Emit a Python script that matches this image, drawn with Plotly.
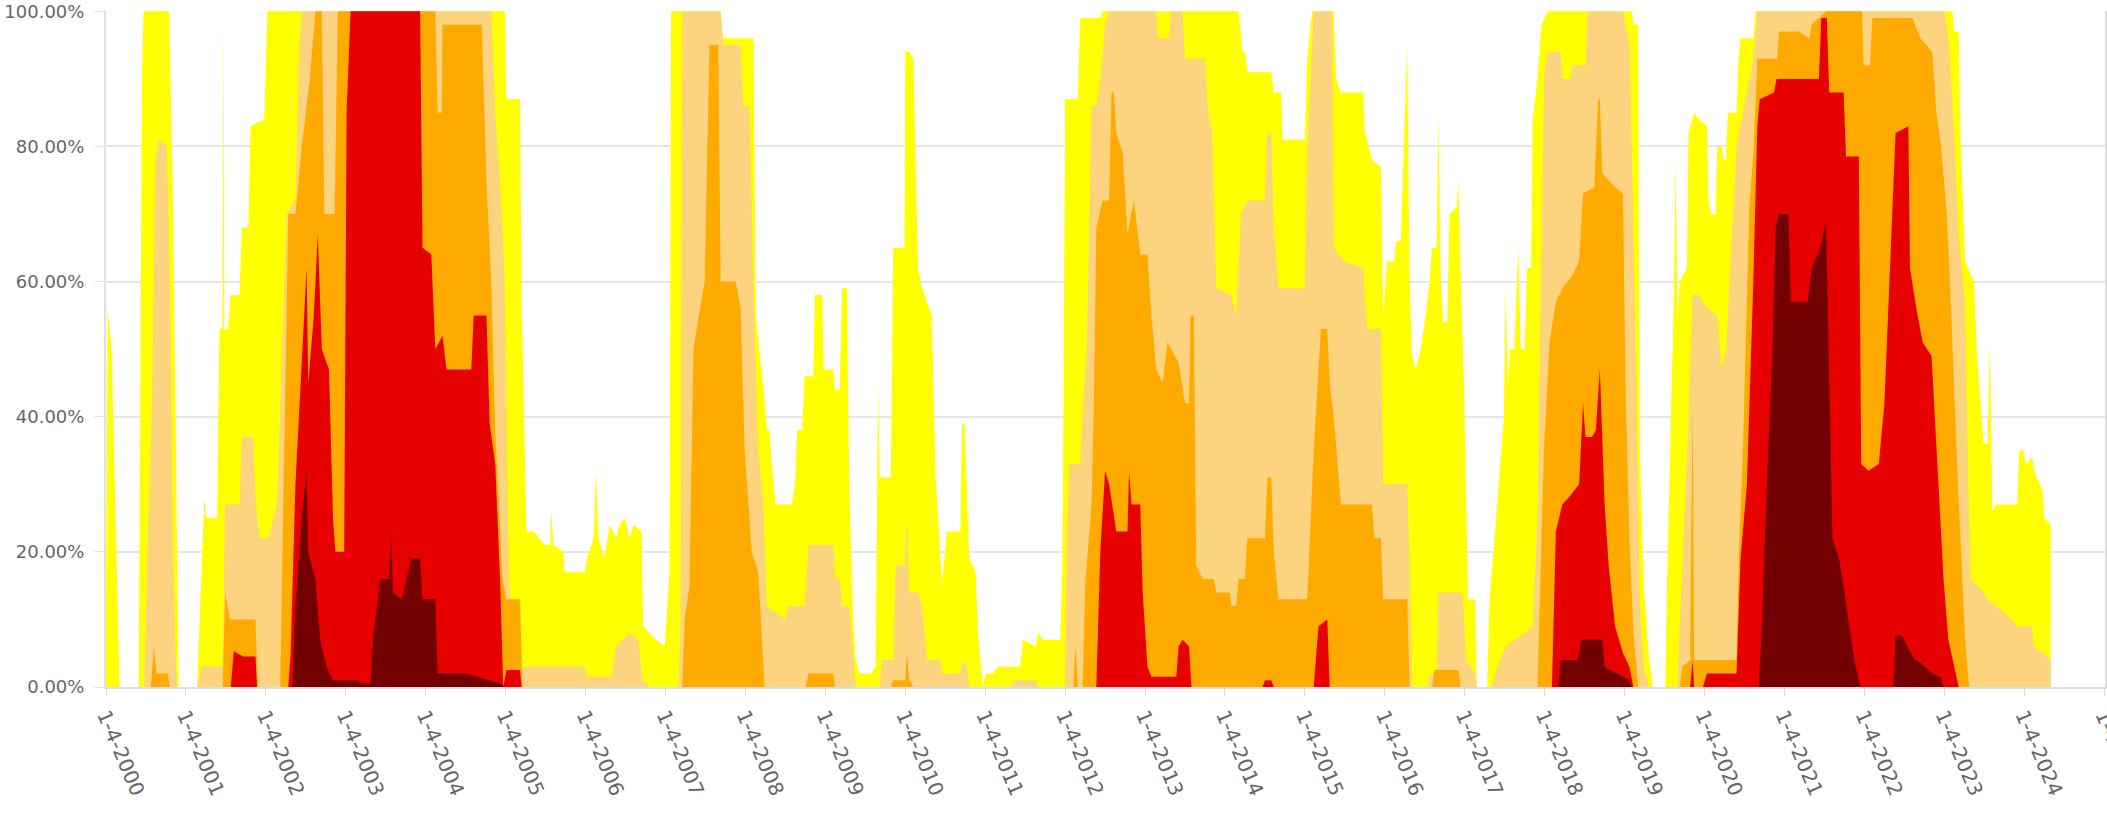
import plotly.graph_objects as go

# ---- data (time in decimal years, value in % area) ----
d0_t = [2000.00,2000.02,2000.07,2000.12,2000.17,2000.41,2000.45,2000.47,2000.79,2000.84,2000.89,2000.91,
        2001.14,2001.20,2001.23,2001.25,2001.39,2001.42,2001.46,2001.47,2001.48,2001.53,2001.56,2001.67,2001.70,
        2001.78,2001.81,2001.98,2002.02,2004.99,2005.01,2005.18,2005.20,2005.26,2005.35,2005.49,2005.56,2005.57,
        2005.60,2005.72,2005.74,2005.99,2006.02,2006.10,2006.13,2006.16,2006.24,2006.30,2006.38,2006.43,2006.49,
        2006.55,2006.60,2006.70,2006.72,2006.80,2006.88,2006.99,2007.05,2007.07,2007.69,2007.72,2008.10,2008.13,
        2008.22,2008.27,2008.30,2008.33,2008.38,2008.58,2008.62,2008.65,2008.71,2008.74,2008.85,2008.87,2008.96,
        2008.98,2009.10,2009.12,2009.18,2009.21,2009.27,2009.30,2009.35,2009.38,2009.43,2009.57,2009.63,2009.66,
        2009.68,2009.82,2009.85,2009.99,2010.00,2010.05,2010.10,2010.16,2010.21,2010.33,2010.38,2010.46,2010.52,
        2010.69,2010.71,2010.74,2010.80,2010.88,2010.91,2010.97,2011.01,2011.10,2011.16,2011.44,2011.47,2011.63,
        2011.66,2011.72,2011.94,2011.97,2012.00,2012.16,2012.19,2012.44,2012.47,2014.17,2014.22,2014.25,2014.28,
        2014.58,2014.61,2014.70,2014.72,2015.00,2015.03,2015.09,2015.36,2015.39,2015.45,2015.73,2015.75,2015.84,
        2015.95,2015.98,2016.03,2016.12,2016.14,2016.20,2016.28,2016.31,2016.34,2016.39,2016.45,2016.51,2016.56,
        2016.59,2016.65,2016.67,2016.70,2016.73,2016.78,2016.81,2016.90,2016.92,2016.95,2016.99,2017.04,2017.13,
        2017.15,2017.28,2017.31,2017.36,2017.44,2017.49,2017.51,2017.54,2017.57,2017.62,2017.67,2017.70,2017.75,
        2017.78,2017.83,2017.85,2017.91,2017.96,2018.04,2019.09,2019.11,2019.17,2019.19,2019.24,2019.30,2019.35,
        2019.51,2019.53,2019.61,2019.64,2019.66,2019.69,2019.78,2019.80,2019.87,2019.93,2020.03,2020.05,2020.08,
        2020.14,2020.16,2020.21,2020.24,2020.27,2020.29,2020.40,2020.42,2020.45,2020.61,2020.64,2023.10,2023.12,
        2023.18,2023.20,2023.26,2023.37,2023.41,2023.49,2023.54,2023.57,2023.60,2023.65,2023.91,2023.94,2023.99,
        2024.02,2024.10,2024.12,2024.23,2024.25,2024.33]
d0_v = [10,56,50,25,0,0,90,100,100,70,15,0,
        0,20,28,25,25,53,53,100,53,53,58,58,68,
        68,83,84,100,100,87,87,57,23,23,21,21,26,
        21,20,17,17,19,22,32,22,19,24,22,24,25,
        22,24,23,9,8,7,6,17,100,100,96,96,55,
        45,38,38,33,27,27,30,38,38,46,46,58,58,
        47,47,44,44,59,59,29,9,4,2,2,3,45,
        31,31,65,65,94,94,93,62,59,55,31,15,23,
        23,39,39,19,17,8,0,2,2,3,3,7,6,
        8,7,7,20,87,87,99,99,100,100,94,94,91,
        91,88,88,81,81,93,100,100,90,88,88,82,78,
        77,55,63,63,66,66,95,60,49,47,50,55,60,
        65,65,85,60,54,54,70,71,75,60,45,13,13,
        0,0,13,20,32,40,59,45,50,50,65,50,50,
        62,62,84,90,98,100,100,98,98,35,15,5,0,
        0,15,55,78,54,60,62,82,85,84,83,72,70,
        70,80,80,78,78,85,85,92,96,96,100,100,97,
        97,82,63,60,49,36,36,51,26,27,27,35,35,
        33,34,32,29,25,24]

d1_t = [2000.48,2000.52,2000.58,2000.62,2000.66,2000.76,2000.80,2000.84,2000.87,2000.89,
        2001.14,2001.20,2001.46,2001.49,2001.67,2001.70,2001.84,2001.87,2001.92,2002.03,2002.14,2002.20,
        2002.26,2002.37,2002.42,2002.45,2004.82,2004.87,2004.93,2004.99,2005.04,2005.10,2005.18,2005.99,
        2006.02,2006.32,2006.38,2006.55,2006.66,2006.71,2006.80,2007.16,2007.19,2007.21,2007.69,2007.72,
        2007.94,2007.97,2008.05,2008.11,2008.16,2008.22,2008.27,2008.50,2008.54,2008.74,2008.79,2009.10,
        2009.12,2009.18,2009.21,2009.30,2009.35,2009.38,2009.68,2009.71,2009.85,2009.88,2009.99,2010.02,
        2010.05,2010.16,2010.21,2010.27,2010.44,2010.46,2010.69,2010.71,2010.77,2010.80,2011.33,2011.35,
        2011.63,2011.66,2012.00,2012.02,2012.05,2012.19,2012.22,2012.27,2012.33,2012.39,2012.44,2012.50,
        2012.55,2013.14,2013.16,2013.30,2013.33,2013.47,2013.50,2013.75,2013.78,2013.84,2013.89,2014.08,
        2014.14,2014.20,2014.28,2014.50,2014.53,2014.58,2014.61,2014.67,2015.00,2015.03,2015.11,2015.34,
        2015.36,2015.48,2015.73,2015.75,2015.78,2015.95,2015.98,2016.28,2016.31,2016.34,2016.54,2016.56,
        2016.65,2016.67,2016.97,2017.02,2017.13,2017.15,2017.33,2017.44,2017.51,2017.62,2017.75,2017.85,
        2017.91,2017.96,2017.99,2018.04,2018.20,2018.22,2018.33,2018.35,2018.51,2018.54,2018.98,2019.06,
        2019.14,2019.19,2019.24,2019.30,2019.66,2019.69,2019.72,2019.80,2019.85,2019.93,2020.03,2020.16,
        2020.21,2020.27,2020.32,2020.40,2020.48,2020.56,2020.61,2020.66,2023.00,2023.05,2023.10,2023.18,
        2023.26,2023.30,2023.33,2023.49,2023.54,2023.75,2023.91,2024.10,2024.12,2024.23,2024.33]
d1_v = [0,20,45,78,81,80,60,20,5,0,
        0,3,3,27,27,37,37,28,22,22,27,50,
        70,72,95,100,100,85,75,60,16,8,3,3,
        1.5,1.5,6,8,7,1,0,0,10,100,100,95,
        95,86,86,55,35,28,12,10,12,12,21,21,
        16,16,12,12,5,0,0,4,4,18,18,25,
        14,14,12,4,4,2,2,4,3,0,0,1,
        1,0,0,20,33,33,41,50,86,86,90,98,
        100,100,96,96,100,100,93,93,86,82,59,58,
        55,70,72,72,82,82,68,59,59,80,100,100,
        65,63,62,57,53,53,30,30,19,0,0,2,
        2,14,14,4,2,0,0,4,6,7,8,9,
        25,70,90,94,94,90,90,92,92,100,100,95,
        50,12,3,0,0,10,17,40,58,58,56,55,
        47,50,62,80,85,90,93,100,100,96,87,67,
        57,30,16,14,13,11,9,9,6,5,4]

d2_t = [2000.56,2000.60,2000.63,2000.77,2000.80,2001.46,2001.49,2001.55,2001.87,2001.90,2002.18,2002.22,
        2002.28,2002.37,2002.45,2002.55,2002.62,2002.70,2002.73,2002.86,2002.90,2004.12,2004.15,2004.20,
        2004.21,2004.70,2004.76,2004.82,2004.87,2004.96,2005.01,2005.18,2005.21,2007.21,2007.24,2007.30,
        2007.35,2007.49,2007.55,2007.66,2007.69,2007.88,2007.94,2007.99,2008.08,2008.16,2008.24,2008.75,
        2008.79,2009.10,2009.12,2009.82,2009.85,2010.00,2010.02,2010.05,2010.10,2012.10,2012.13,2012.16,
        2012.22,2012.25,2012.33,2012.36,2012.39,2012.47,2012.55,2012.58,2012.61,2012.64,2012.72,2012.78,
        2012.86,2012.94,2013.03,2013.08,2013.14,2013.22,2013.28,2013.33,2013.42,2013.50,2013.55,2013.57,
        2013.61,2013.64,2013.72,2013.86,2013.89,2014.06,2014.08,2014.14,2014.17,2014.25,2014.28,2014.50,
        2014.53,2014.58,2014.61,2014.67,2015.03,2015.11,2015.20,2015.28,2015.31,2015.36,2015.45,2015.84,
        2015.87,2015.95,2015.98,2016.28,2016.31,2016.59,2016.62,2016.92,2016.95,2017.91,2017.96,2017.99,
        2018.06,2018.14,2018.22,2018.35,2018.43,2018.48,2018.62,2018.67,2018.69,2018.72,2018.88,2018.98,
        2019.01,2019.06,2019.11,2019.17,2019.69,2019.72,2019.82,2019.85,2019.87,2020.40,2020.43,2020.48,
        2020.56,2020.61,2020.66,2020.91,2020.93,2021.18,2021.31,2021.34,2021.52,2021.97,2021.99,2022.07,
        2022.10,2022.60,2022.70,2022.85,2022.90,2022.96,2023.03,2023.08,2023.17,2023.26,2023.31]
d2_v = [0,6,2,2,0,0,14,10,10,0,0,30,
        70,70,80,90,100,100,70,70,100,100,85,85,
        98,98,75,60,38,16,13,13,0,0,10,15,
        50,60,95,95,60,60,56,35,20,17,0,0,
        2,2,0,0,1,1,5,1,0,0,6,0,
        0,15,27,42,68,72,72,88,88,82,79,67,
        72,64,64,55,47,45,51,50,48,42,42,55,
        55,18,16,16,14,14,12,12,16,16,22,22,
        31,31,20,13,13,35,53,53,45,40,27,27,
        22,22,13,13,0,0,2.5,2.5,0,0,20,35,
        51,57,59,61,63,73,74,87,87,76,74,73,
        45,22,8,0,0,3,4,42,4,4,20,35,
        71,79,93,93,97,97,96,98,100,100,92,92,
        99,99,96,94,85,80,70,57,30,7,0]

d3_t = [2001.56,2001.60,2001.64,2001.72,2001.87,2001.89,2002.28,2002.31,2002.37,2002.51,2002.53,2002.60,
        2002.65,2002.70,2002.79,2002.84,2002.87,2002.98,2003.01,2003.06,2003.93,2003.96,2004.07,2004.12,
        2004.21,2004.26,2004.57,2004.60,2004.76,2004.80,2004.87,2004.93,2004.97,2005.01,2005.18,2005.20,
        2012.39,2012.44,2012.50,2012.55,2012.64,2012.78,2012.80,2012.83,2012.94,2012.97,2013.03,2013.08,
        2013.39,2013.42,2013.47,2013.55,2013.58,2014.47,2014.50,2014.58,2014.61,2015.11,2015.17,2015.28,
        2015.31,2018.09,2018.14,2018.22,2018.30,2018.43,2018.48,2018.51,2018.59,2018.64,2018.69,2018.75,
        2018.80,2018.88,2018.98,2019.06,2019.11,2019.82,2019.85,2019.87,2019.98,2020.03,2020.40,2020.45,
        2020.53,2020.61,2020.66,2020.69,2020.87,2020.90,2021.43,2021.46,2021.53,2021.56,2021.74,2021.77,
        2021.93,2021.96,2022.05,2022.18,2022.25,2022.31,2022.39,2022.55,2022.57,2022.65,2022.73,2022.84,
        2022.92,2022.99,2023.05,2023.12,2023.18]
d3_v = [0,5.3,5,4.5,4.5,0,0,5,30,62,45,55,
        67,50,47,25,20,20,85,100,100,65,64,50,
        52,47,47,55,55,39,33,16,0,2.5,2.5,0,
        0,20,32,30,23,23,32,27,27,14,3,1.5,
        1.5,6,7,6,0,0,1,1,0,0,9,10,
        0,0,23,27,28,30,42,37,37,38,47,27,
        18,9,5,3,0,0,4,0,0,2,2,19,
        30,60,83,87,88,90,90,99,99,88,88,78.5,
        78.5,33,32,33,42,59,82,83,62,56,51,49,
        32,16,7,3,0]

d4_t = [2002.33,2002.37,2002.45,2002.51,2002.53,2002.62,2002.68,2002.76,2002.84,2003.15,2003.20,2003.31,
        2003.34,2003.43,2003.54,2003.57,2003.59,2003.70,2003.82,2003.93,2003.96,2004.12,2004.15,2004.50,
        2004.93,2004.99,2018.17,2018.20,2018.41,2018.46,2018.72,2018.75,2018.90,2019.06,2019.09,2020.68,
        2020.72,2020.78,2020.85,2020.89,2020.93,2021.05,2021.08,2021.29,2021.34,2021.45,2021.52,2021.55,
        2021.60,2021.68,2021.74,2021.81,2021.89,2021.95,2022.36,2022.39,2022.47,2022.55,2022.63,2022.70,
        2022.80,2022.86,2022.95,2022.99]
d4_v = [0,12,25,32,20,16,7,3,1,1,0.5,0.5,
        7,16,16,23,14,13,19,19,13,13,2,2,
        0.5,0,0,4,4,7,7,3,2,1,0,0,
        10,30,50,68,70,70,57,57,62,65,69,50,
        22,19,15,9,3,0,0,7.6,7.6,5.8,4,3.6,
        2.5,1.9,1.5,0]

tick_years = list(range(2000, 2026))
tick_labels = [f"1-4-{y}" for y in tick_years]
y_ticks = [0, 20, 40, 60, 80, 100]
y_labels = [f"{v:.2f}%" for v in y_ticks]

series = [
    ("D0", d0_t, d0_v, "#FFFF00"),
    ("D1", d1_t, d1_v, "#FCD37F"),
    ("D2", d2_t, d2_v, "#FFAA00"),
    ("D3", d3_t, d3_v, "#E60000"),
    ("D4", d4_t, d4_v, "#730000"),
]

fig = go.Figure()
for name, t, v, c in series:
    fig.add_trace(go.Scatter(x=t, y=v, name=name, mode="lines", fill="tozeroy",
                             fillcolor=c, line=dict(width=0, color=c), hoverinfo="skip"))

fig.update_layout(
    width=2107, height=813,
    margin=dict(l=106, r=2, t=11, b=126),
    paper_bgcolor="white", plot_bgcolor="white",
    showlegend=False,
    font=dict(family="DejaVu Sans", color="#666666"),
)
fig.update_xaxes(
    range=[2000, 2025.01], tickvals=tick_years, ticktext=tick_labels,
    tickangle=67, tickfont=dict(size=20, color="#666666"), ticklabeloverflow="allow",
    showgrid=False, zeroline=False,
    showline=True, linecolor="#dddddd", linewidth=2,
    ticks="outside", ticklen=7, tickcolor="#dddddd", automargin=False,
)
fig.update_yaxes(
    range=[0, 100.05], tickvals=y_ticks, ticktext=y_labels,
    tickfont=dict(size=18, color="#666666"), ticklabelstandoff=6, ticklabeloverflow="allow",
    showgrid=True, gridcolor="#e6e6e6", gridwidth=2, zeroline=False,
    showline=True, linecolor="#e0e0e0", linewidth=2, mirror=True,
    ticks="outside", ticklen=10, tickcolor="#e6e6e6", automargin=False,
)
# remove the browser's default 8px page margin so the figure sits at the window origin
fig.write_html("out.html",
               config={"displayModeBar": False},
               post_script="document.body.style.margin='0';document.body.style.overflow='hidden';")
